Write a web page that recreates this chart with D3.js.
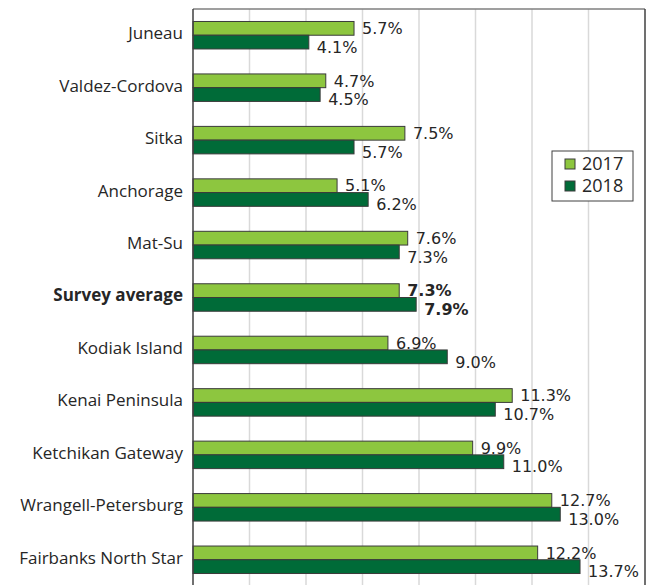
<!DOCTYPE html>
<html>
<head>
<meta charset="utf-8">
<script src="https://cdn.jsdelivr.net/npm/d3@7"></script>
<style>
  body { margin: 0; background: #fff; }
  text { fill: #262626; }
</style>
</head>
<body>
<svg id="chart" width="647" height="585"></svg>
<script>
// chart data
let regions = ["Juneau", "Valdez-Cordova", "Sitka", "Anchorage", "Mat-Su", "Survey average",
  "Kodiak Island", "Kenai Peninsula", "Ketchikan Gateway", "Wrangell-Petersburg", "Fairbanks North Star"];
let years = ["2017", "2018"];
let values2017 = [5.7, 4.7, 7.5, 5.1, 7.6, 7.3, 6.9, 11.3, 9.9, 12.7, 12.2];
let values2018 = [4.1, 4.5, 5.7, 6.2, 7.3, 7.9, 9.0, 10.7, 11.0, 13.0, 13.7];
let gridTicks = [2, 4, 6, 8, 10, 12, 14];

let colors = {"2017": "#8dc63f", "2018": "#006b38"};
let plot = {left: 193, right: 645, top: 9, bottom: 586};

let svg = d3.select("#chart");

let x = d3.scaleLinear().domain([0, 16]).range([plot.left, plot.right]);
let y = d3.scaleBand().domain(regions).range([plot.top, plot.bottom])
  .paddingInner(0.476).paddingOuter(0.238);
let ySub = d3.scaleBand().domain(years).range([0, y.bandwidth()]);

// gridlines
svg.append("g")
  .selectAll("line")
  .data(gridTicks)
  .join("line")
  .attr("x1", d => x(d)).attr("x2", d => x(d))
  .attr("y1", plot.top).attr("y2", 585)
  .attr("stroke", "#d9d9d9")
  .attr("stroke-width", 1.5);

// plot frame: top and right
svg.append("line")
  .attr("x1", plot.left).attr("x2", plot.right)
  .attr("y1", plot.top).attr("y2", plot.top)
  .attr("stroke", "#7f7f7f").attr("stroke-width", 1.5);
svg.append("line")
  .attr("x1", plot.right).attr("x2", plot.right)
  .attr("y1", plot.top).attr("y2", 585)
  .attr("stroke", "#404040").attr("stroke-width", 1.5);

let rows = regions.map((r, i) => ({
  region: r,
  bold: r == "Survey average",
  bars: [{year: "2017", value: values2017[i]}, {year: "2018", value: values2018[i]}]
}));

let group = svg.append("g")
  .selectAll("g")
  .data(rows)
  .join("g")
  .attr("transform", d => "translate(0," + y(d.region) + ")");

group.selectAll("rect")
  .data(d => d.bars)
  .join("rect")
  .attr("x", x(0))
  .attr("y", d => ySub(d.year))
  .attr("width", d => x(d.value) - x(0))
  .attr("height", ySub.bandwidth())
  .attr("fill", d => colors[d.year])
  .attr("stroke", "#3a3a3a")
  .attr("stroke-width", 1);

// value labels (the 2018 one sits a little lower, as in the original)
let labelShift = {"2017": 0, "2018": 5};
group.each(function (row) {
  d3.select(this).selectAll("text.val")
    .data(row.bars)
    .join("text")
    .attr("class", "val")
    .attr("x", d => x(d.value) + 8)
    .attr("y", d => ySub(d.year) + ySub.bandwidth() / 2 + labelShift[d.year])
    .attr("dy", "0.36em")
    .style("font-family", "'DejaVu Sans', sans-serif")
    .style("font-size", "16px")
    .style("font-weight", row.bold ? "bold" : "normal")
    .text(d => d.value.toFixed(1) + "%");
});

// category labels
group.append("text")
  .attr("x", 183)
  .attr("y", y.bandwidth() / 2 - 2)
  .attr("dy", "0.35em")
  .attr("text-anchor", "end")
  .style("font-family", "'Open Sans', sans-serif")
  .style("font-size", "17px")
  .style("font-weight", d => d.bold ? "bold" : "normal")
  .text(d => d.region);

// left axis line
svg.append("line")
  .attr("x1", plot.left).attr("x2", plot.left)
  .attr("y1", plot.top).attr("y2", 585)
  .attr("stroke", "#404040").attr("stroke-width", 1.5);

// legend
let legend = svg.append("g").attr("transform", "translate(552,151)");
legend.append("rect")
  .attr("width", 81).attr("height", 50)
  .attr("fill", "#fff")
  .attr("stroke", "#404040").attr("stroke-width", 1);
let item = legend.selectAll("g")
  .data(years)
  .join("g")
  .attr("transform", (d, i) => "translate(13," + (8 + i * 22) + ")");
item.append("rect")
  .attr("width", 10).attr("height", 10)
  .attr("fill", d => colors[d])
  .attr("stroke", "#3a3a3a").attr("stroke-width", 1);
item.append("text")
  .attr("x", 17).attr("y", 5)
  .attr("dy", "0.35em")
  .style("font-family", "'Open Sans', sans-serif")
  .style("font-size", "18px")
  .text(d => d);
</script>
</body>
</html>
